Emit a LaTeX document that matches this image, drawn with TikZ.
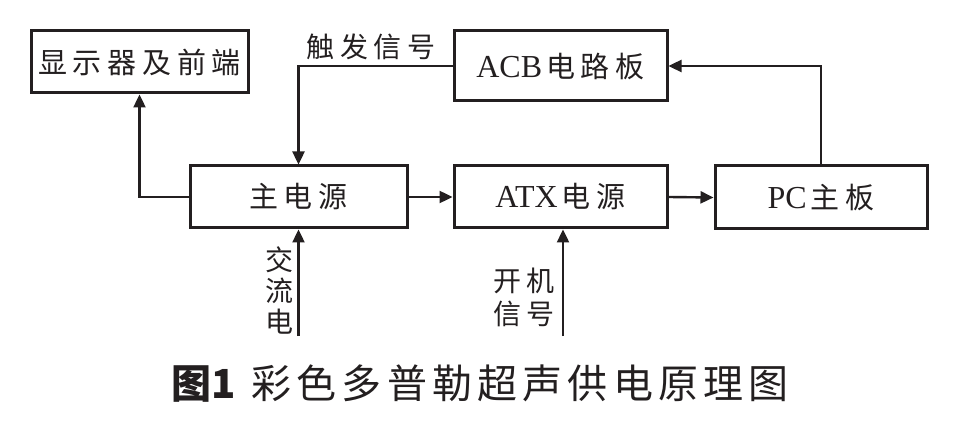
\documentclass[tikz,border=0pt]{standalone}
\usepackage{fontspec}
\setmainfont{Liberation Serif}
\newfontfamily\cjk[LetterSpace=20]{Noto Sans CJK SC}
\newfontfamily\cjkcap{Noto Sans CJK SC}
\newcommand\ck{\kern5.2pt}
\usetikzlibrary{arrows.meta}
\definecolor{ink}{HTML}{231F20}
\begin{document}
\begin{tikzpicture}[x=1pt,y=-1pt,
  box/.style={draw=ink,line width=3pt,minimum height=62pt,inner sep=0pt,text=ink,
    font=\fontsize{29}{29}\selectfont\cjk},
  conn/.style={draw=ink,line width=2.4pt},
  arr/.style={conn,-{Triangle[length=13pt,width=12pt]}},
  lab/.style={text=ink,inner sep=0pt,font=\fontsize{28}{31}\selectfont\cjk,align=center}]
\useasboundingbox (0,0) rectangle (974,446);
\fill[white] (0,0) rectangle (974,446);
\node[box,minimum width=217pt] (disp) at (139.5,62) {显示器及前端};
\node[box,minimum width=217pt] (main) at (298.5,197) {主电源};
\node[box,minimum width=213pt,minimum height=70pt] (acb) at (560.5,66) {{\fontsize{32}{32}\selectfont\rmfamily ACB}\kern4pt 电路板};
\node[box,minimum width=213pt] (atx) at (560.5,197) {{\fontsize{32}{32}\selectfont\rmfamily ATX}\kern4pt 电源};
\node[box,minimum width=212pt,minimum height=63pt] (pc) at (821,197.5) {{\fontsize{32}{32}\selectfont\rmfamily PC}\kern4pt 主板};
\coordinate (ac) at (298.5,336);
\coordinate (on) at (563,336);
\draw[arr] (main.west) -| (disp.south);
\draw[arr] (acb.west) -| (main.north);
\draw[arr] (main.east) -- (atx.west);
\draw[arr] (atx.east) -- (pc.west);
\draw[arr] (pc.north) |- (acb.east);
\draw[arr] (ac) -- (main.south);
\draw[arr] (on) -- (on |- atx.south);
\node[lab] (trig) at (371,47) {触发信号};
\node[lab] (acl) at (279,290) {交\\流\\电};
\node[lab,font=\fontsize{28}{33}\selectfont\cjk] (onl) at (524,297) {开机\\信号};
\node[text=ink,inner sep=0pt,anchor=west,font=\fontsize{40}{40}\selectfont\cjkcap] (cap) at (171,384) {{\bfseries 图1}\kern16pt 彩\ck 色\ck 多\ck 普\ck 勒\ck 超\ck 声\ck 供\ck 电\ck 原\ck 理\ck 图};
\end{tikzpicture}
\end{document}
